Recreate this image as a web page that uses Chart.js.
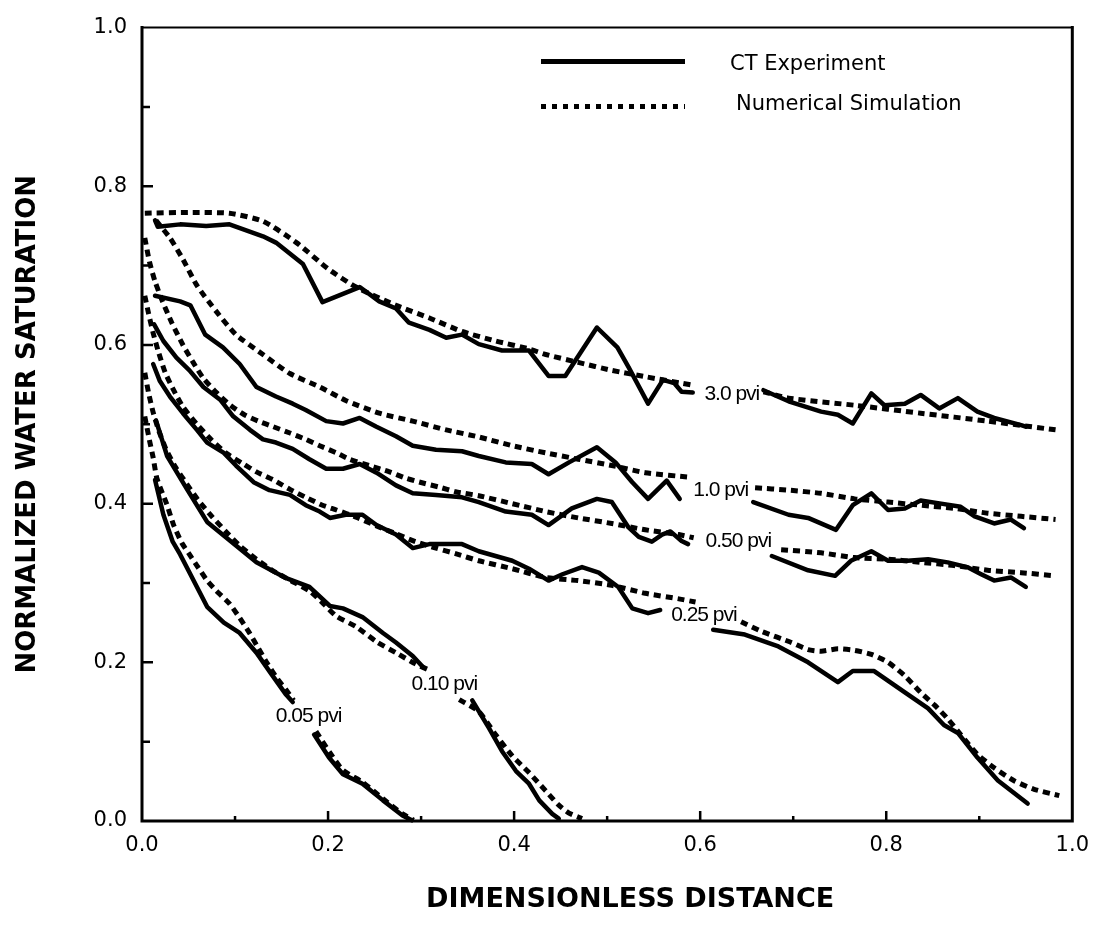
<!DOCTYPE html>
<html>
<head>
<meta charset="utf-8">
<script src="https://cdn.jsdelivr.net/npm/chart.js@4"></script>
<style>
  html, body { margin: 0; padding: 0; background: #fff; }
  #wrap { width: 1101px; height: 928px; position: relative; }
</style>
</head>
<body>
<div id="wrap"><canvas id="c"></canvas></div>
<script>
// ---------------- DATA ----------------
// Tick labels
const majorTickValues = [0, 0.2, 0.4, 0.6, 0.8, 1.0];
const xTickLabels = ['0.0', '0.2', '0.4', '0.6', '0.8', '1.0'];
const yTickLabels = ['0.0', '0.2', '0.4', '0.6', '0.8', '1.0'];

// 3.0 pvi
const x30Sim = [0.003,0.05,0.094,0.13,0.166,0.20,0.23,0.273,0.309,0.344,0.38,0.416,0.434,0.469,0.505,0.541,0.593,0.63,0.668,0.695,0.766,0.837,0.909,0.982];
const y30Sim = [0.766,0.767,0.766,0.756,0.729,0.696,0.673,0.650,0.634,0.617,0.605,0.595,0.588,0.578,0.568,0.560,0.549,null,0.541,0.533,0.524,0.514,0.504,0.493];
const x30Exp = [0.014,0.017,0.041,0.069,0.094,0.13,0.144,0.173,0.194,0.234,0.255,0.273,0.287,0.309,0.327,0.344,0.362,0.387,0.416,0.437,0.455,0.489,0.511,0.523,0.544,0.560,0.572,0.580,0.592,0.63,0.668,0.695,0.730,0.748,0.764,0.784,0.798,0.820,0.837,0.857,0.877,0.898,0.916,0.945,0.95];
const y30Exp = [0.757,0.749,0.752,0.750,0.752,0.737,0.729,0.702,0.654,0.673,0.655,0.646,0.628,0.619,0.609,0.613,0.601,0.593,0.593,0.561,0.561,0.622,0.597,0.572,0.526,0.556,0.552,0.541,0.540,null,0.543,0.529,0.516,0.512,0.501,0.539,0.524,0.526,0.537,0.520,0.533,0.516,0.508,0.499,0.497];

// 1.0 pvi
const x10Sim = [0.015,0.030,0.044,0.059,0.080,0.101,0.130,0.159,0.191,0.219,0.255,0.291,0.327,0.362,0.398,0.434,0.469,0.505,0.541,0.591,0.625,0.659,0.695,0.730,0.766,0.802,0.837,0.873,0.909,0.945,0.982];
const y10Sim = [0.757,0.735,0.708,0.675,0.642,0.613,0.588,0.564,0.547,0.530,0.514,0.504,0.493,0.484,0.473,0.464,0.456,0.448,0.439,0.433,null,0.420,0.417,0.413,0.406,0.402,0.398,0.394,0.388,0.384,0.380];
const x10Exp = [0.014,0.041,0.052,0.068,0.087,0.105,0.123,0.144,0.162,0.176,0.198,0.216,0.234,0.252,0.273,0.291,0.316,0.344,0.362,0.391,0.419,0.437,0.459,0.489,0.509,0.527,0.544,0.564,0.578,0.62,0.657,0.695,0.716,0.746,0.764,0.784,0.802,0.820,0.837,0.859,0.880,0.895,0.916,0.934,0.948];
const y10Exp = [0.662,0.655,0.650,0.613,0.597,0.576,0.547,0.535,0.526,0.518,0.504,0.501,0.508,0.497,0.485,0.473,0.468,0.466,0.460,0.452,0.450,0.437,0.452,0.471,0.452,0.427,0.406,0.429,0.406,null,0.402,0.386,0.382,0.367,0.398,0.413,0.392,0.394,0.404,0.400,0.396,0.384,0.375,0.380,0.369];

// 0.50 pvi
const x050Sim = [0.003,0.008,0.014,0.022,0.032,0.044,0.055,0.066,0.080,0.095,0.110,0.125,0.141,0.159,0.176,0.191,0.209,0.223,0.244,0.266,0.284,0.302,0.319,0.337,0.362,0.398,0.434,0.469,0.505,0.541,0.577,0.593,0.64,0.687,0.730,0.766,0.802,0.837,0.873,0.909,0.945,0.982];
const y050Sim = [0.735,0.705,0.680,0.655,0.628,0.600,0.578,0.558,0.540,0.524,0.512,0.504,0.497,0.489,0.481,0.473,0.464,0.456,0.448,0.440,0.432,0.426,0.421,0.415,0.410,0.400,0.390,0.382,0.375,0.367,0.361,0.357,null,0.342,0.338,0.332,0.330,0.326,0.322,0.316,0.313,0.309];
const x050Exp = [0.013,0.023,0.037,0.051,0.066,0.084,0.098,0.116,0.130,0.144,0.162,0.180,0.198,0.216,0.234,0.252,0.273,0.291,0.316,0.344,0.362,0.391,0.419,0.437,0.462,0.489,0.505,0.523,0.534,0.548,0.559,0.568,0.580,0.587,0.63,0.677,0.716,0.745,0.762,0.784,0.802,0.823,0.845,0.866,0.887,0.902,0.916,0.934,0.950];
const y050Exp = [0.626,0.605,0.584,0.568,0.547,0.531,0.510,0.493,0.481,0.477,0.469,0.456,0.444,0.444,0.450,0.439,0.423,0.413,0.411,0.408,0.402,0.390,0.386,0.373,0.394,0.406,0.402,0.370,0.358,0.352,0.361,0.365,0.353,0.349,null,0.334,0.316,0.309,0.328,0.340,0.328,0.328,0.330,0.326,0.320,0.311,0.303,0.307,0.295];

// 0.25 pvi
const x025Sim = [0.003,0.007,0.012,0.018,0.025,0.034,0.044,0.059,0.075,0.090,0.109,0.123,0.141,0.159,0.176,0.194,0.209,0.23,0.252,0.273,0.294,0.316,0.337,0.362,0.398,0.434,0.469,0.505,0.541,0.577,0.595,0.62,0.644,0.666,0.698,0.716,0.730,0.748,0.766,0.784,0.802,0.820,0.837,0.852,0.866,0.880,0.898,0.916,0.937,0.959,0.986];
const y025Sim = [0.662,0.640,0.615,0.590,0.565,0.543,0.522,0.500,0.480,0.464,0.450,0.440,0.430,0.418,0.408,0.398,0.392,0.383,0.372,0.362,0.352,0.344,0.337,0.328,0.318,0.307,0.303,0.297,0.287,0.280,0.276,null,0.251,0.239,0.225,0.216,0.214,0.217,0.215,0.210,0.200,0.183,0.162,0.146,0.129,0.109,0.084,0.067,0.051,0.040,0.032];
const x025Exp = [0.012,0.019,0.030,0.044,0.059,0.070,0.088,0.101,0.120,0.137,0.159,0.176,0.191,0.202,0.219,0.237,0.252,0.273,0.291,0.309,0.327,0.344,0.362,0.398,0.416,0.437,0.452,0.473,0.491,0.512,0.527,0.544,0.557,0.59,0.614,0.648,0.684,0.716,0.748,0.764,0.787,0.820,0.845,0.862,0.877,0.898,0.920,0.952];
const y025Exp = [0.576,0.555,0.535,0.514,0.493,0.477,0.464,0.448,0.427,0.417,0.411,0.398,0.390,0.382,0.386,0.386,0.373,0.361,0.344,0.349,0.349,0.349,0.340,0.328,0.318,0.303,0.311,0.320,0.313,0.295,0.268,0.262,0.266,null,0.241,0.235,0.220,0.200,0.175,0.189,0.189,0.162,0.142,0.121,0.111,0.080,0.051,0.022];

// 0.10 pvi
const x010Sim = [0.003,0.007,0.012,0.018,0.026,0.036,0.048,0.060,0.075,0.090,0.105,0.123,0.140,0.160,0.180,0.195,0.209,0.230,0.252,0.273,0.294,0.309,0.325,0.341,0.362,0.380,0.398,0.416,0.434,0.448,0.459,0.473];
const y010Sim = [0.565,0.540,0.515,0.492,0.468,0.446,0.425,0.405,0.384,0.365,0.347,0.330,0.316,0.303,0.290,0.274,0.258,0.245,0.226,0.212,0.198,0.190,null,0.153,0.138,0.109,0.082,0.061,0.038,0.020,0.010,0.003];
const x010Exp = [0.015,0.027,0.048,0.070,0.098,0.123,0.155,0.180,0.202,0.216,0.237,0.259,0.273,0.291,0.302,0.33,0.355,0.373,0.387,0.402,0.416,0.427,0.441,0.448];
const y010Exp = [0.505,0.460,0.419,0.377,0.350,0.326,0.306,0.295,0.271,0.268,0.257,0.237,0.225,0.208,0.194,null,0.152,0.117,0.088,0.063,0.047,0.026,0.009,0.003];

// 0.05 pvi
const x005Sim = [0.003,0.008,0.012,0.016,0.027,0.034,0.043,0.051,0.059,0.070,0.080,0.094,0.105,0.115,0.125,0.135,0.145,0.155,0.163,0.175,0.187,0.202,0.216,0.237,0.259,0.280,0.292];
const y005Sim = [0.510,0.480,0.458,0.432,0.398,0.373,0.350,0.336,0.322,0.303,0.290,0.274,0.256,0.238,0.218,0.198,0.180,0.165,0.152,null,0.113,0.086,0.064,0.049,0.028,0.009,0.001];
const x005Exp = [0.014,0.023,0.033,0.041,0.052,0.070,0.088,0.105,0.123,0.138,0.155,0.162,0.175,0.185,0.201,0.216,0.237,0.259,0.280,0.290];
const y005Exp = [0.430,0.386,0.352,0.336,0.311,0.270,0.250,0.237,0.212,0.187,0.159,0.150,null,0.109,0.080,0.059,0.047,0.026,0.007,0.001];

// Curve labels (in data units)
const pviLabels = ['3.0 pvi', '1.0 pvi', '0.50 pvi', '0.25 pvi', '0.10 pvi', '0.05 pvi'];
const pviLabelX = [0.634, 0.622, 0.641, 0.604, 0.325, 0.179];
const pviLabelY = [0.538, 0.417, 0.353, 0.260, 0.173, 0.132];

// Legend
const legendLabels = ['CT Experiment', 'Numerical Simulation'];

// ---------------- CHART ----------------
const pts = (xs, ys) => xs.map((x, i) => ({ x: x, y: ys[i] }));
const INK = '#000';
const expStyle = { borderColor: INK, backgroundColor: INK, borderWidth: 4.5, borderJoinStyle: 'round', borderCapStyle: 'round', tension: 0, clip: false };
const simStyle = { borderColor: INK, backgroundColor: INK, borderWidth: 5, borderDash: [7, 5], borderCapStyle: 'butt', borderJoinStyle: 'round', tension: 0.2, clip: false };

const curves = [
  ['3.0 pvi', x30Sim, y30Sim, x30Exp, y30Exp],
  ['1.0 pvi', x10Sim, y10Sim, x10Exp, y10Exp],
  ['0.50 pvi', x050Sim, y050Sim, x050Exp, y050Exp],
  ['0.25 pvi', x025Sim, y025Sim, x025Exp, y025Exp],
  ['0.10 pvi', x010Sim, y010Sim, x010Exp, y010Exp],
  ['0.05 pvi', x005Sim, y005Sim, x005Exp, y005Exp]
];
const datasets = [];
curves.forEach(c => {
  datasets.push(Object.assign({ label: legendLabels[1] + ' ' + c[0], data: pts(c[1], c[2]) }, simStyle));
  datasets.push(Object.assign({ label: legendLabels[0] + ' ' + c[0], data: pts(c[3], c[4]) }, expStyle));
});

const isMajor = v => majorTickValues.some(m => Math.abs(m - v) < 1e-6);
const labelFor = (v, labels) => {
  const i = majorTickValues.findIndex(m => Math.abs(m - v) < 1e-6);
  return i >= 0 ? labels[i] : '';
};

const FONT = '"DejaVu Sans", "Liberation Sans", sans-serif';
const TITLE_SHIFT = 23; // printed x-axis title sits slightly right of the plot centre

const frameAndTicks = {
  id: 'frameAndTicks',
  beforeDraw(chart) {
    const s = chart.scales.x;
    s.left += TITLE_SHIFT; s.right += TITLE_SHIFT;
  },
  afterDraw(chart) {
    const s = chart.scales.x;
    s.left -= TITLE_SHIFT; s.right -= TITLE_SHIFT;
  },
  afterDatasetsDraw(chart) {
    const { ctx, chartArea: a, scales: { x, y } } = chart;
    ctx.save();
    ctx.strokeStyle = INK;
    ctx.lineCap = 'square';
    ctx.lineWidth = 3;
    ctx.beginPath();
    ctx.moveTo(a.left, a.top); ctx.lineTo(a.left, a.bottom);
    ctx.lineTo(a.right, a.bottom); ctx.lineTo(a.right, a.top);
    ctx.stroke();
    ctx.lineWidth = 2;
    ctx.beginPath(); ctx.moveTo(a.left, a.top); ctx.lineTo(a.right, a.top); ctx.stroke();
    ctx.lineCap = 'butt';
    ctx.lineWidth = 2.5;
    ctx.beginPath();
    x.ticks.forEach(t => {
      const px = x.getPixelForValue(t.value);
      if (t.value <= 0 || t.value >= 1) return;
      ctx.moveTo(px, a.bottom); ctx.lineTo(px, a.bottom - (isMajor(t.value) ? 10 : 5));
    });
    y.ticks.forEach(t => {
      const py = y.getPixelForValue(t.value);
      if (t.value <= 0 || t.value >= 1) return;
      ctx.moveTo(a.left, py); ctx.lineTo(a.left + (isMajor(t.value) ? 11 : 8), py);
    });
    ctx.stroke();

    // curve labels
    ctx.fillStyle = INK;
    ctx.font = '21px "Liberation Sans", Arial, sans-serif';
    ctx.textAlign = 'center';
    ctx.textBaseline = 'middle';
    if ('letterSpacing' in ctx) ctx.letterSpacing = '-1px';
    pviLabels.forEach((t, i) => {
      ctx.fillText(t, x.getPixelForValue(pviLabelX[i]), y.getPixelForValue(pviLabelY[i]));
    });
    if ('letterSpacing' in ctx) ctx.letterSpacing = '0px';

    // legend inside the plot
    ctx.font = '21px ' + FONT;
    ctx.textAlign = 'left';
    ctx.lineWidth = 5;
    ctx.setLineDash([]);
    ctx.beginPath(); ctx.moveTo(a.left + 399, a.top + 34); ctx.lineTo(a.left + 543, a.top + 34); ctx.stroke();
    ctx.setLineDash([5, 6]);
    ctx.beginPath(); ctx.moveTo(a.left + 399, a.top + 79); ctx.lineTo(a.left + 543, a.top + 79); ctx.stroke();
    ctx.setLineDash([]);
    ctx.fillText(legendLabels[0], a.left + 588, a.top + 37);
    ctx.fillText(legendLabels[1], a.left + 594, a.top + 77);
    ctx.restore();
  }
};

new Chart(document.getElementById('c'), {
  type: 'scatter',
  data: { datasets: datasets },
  plugins: [frameAndTicks],
  options: {
    responsive: true,
    maintainAspectRatio: false,
    animation: false,
    devicePixelRatio: 1,
    showLine: true,
    spanGaps: false,
    elements: { point: { radius: 0, hoverRadius: 0 } },
    layout: { padding: { top: 15, right: 26, left: 0, bottom: 0 } },
    plugins: { legend: { display: false }, tooltip: { enabled: false } },
    scales: {
      x: {
        type: 'linear', min: 0, max: 1,
        afterFit(scale) { scale.height = 107; },
        grid: { display: false, drawTicks: false },
        border: { display: false },
        ticks: {
          stepSize: 0.1, autoSkip: false, maxRotation: 0, padding: 12,
          color: INK, font: { family: FONT, size: 21 },
          callback: v => labelFor(v, xTickLabels)
        },
        title: {
          display: true, text: 'DIMENSIONLESS DISTANCE', color: INK,
          font: { family: FONT, size: 27, weight: 'bold' },
          padding: { top: 0, bottom: 12 }
        }
      },
      y: {
        type: 'linear', min: 0, max: 1,
        afterFit(scale) { scale.width = 142; },
        grid: { display: false, drawTicks: false },
        border: { display: false },
        ticks: {
          stepSize: 0.1, autoSkip: false, padding: 15,
          color: INK, font: { family: FONT, size: 21 },
          callback: v => labelFor(v, yTickLabels)
        },
        title: {
          display: true, text: 'NORMALIZED WATER SATURATION', color: INK,
          font: { family: FONT, size: 26, weight: 'bold' },
          padding: { top: 13, bottom: 0 }
        }
      }
    }
  }
});
</script>
</body>
</html>
